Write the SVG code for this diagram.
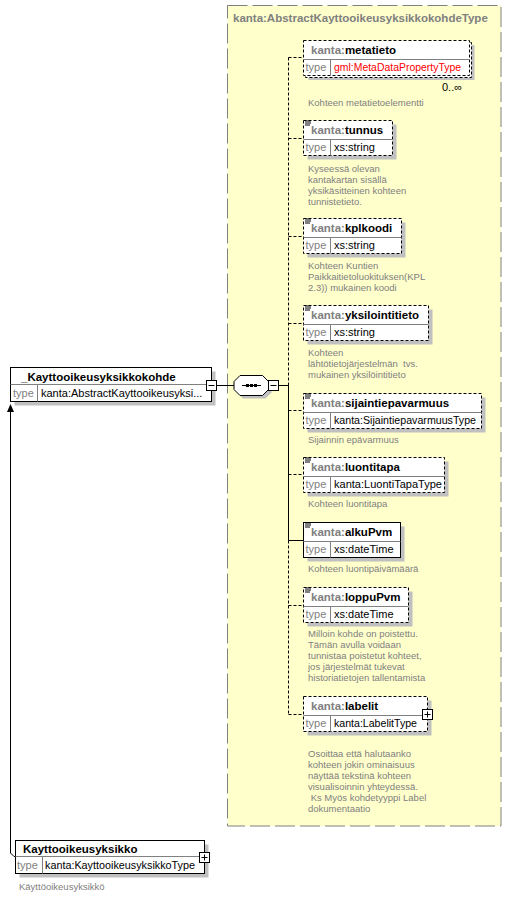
<svg xmlns="http://www.w3.org/2000/svg" width="523" height="897" viewBox="0 0 523 897">
<style>
text{font-family:"Liberation Sans",Arial,sans-serif}
.hdr{font-size:11.5px;font-weight:bold;fill:#000}
.pre{fill:#808080}
.lbl{font-size:11px;fill:#808080}
.val{font-size:11px;fill:#000}
.red{fill:#FF0000}
.doc{font-size:9.5px;fill:#808080;white-space:pre}
.box{fill:#fff;stroke:#000;stroke-width:1}
.opt{stroke-dasharray:3,2}
.sh{fill:#C0C0C0}
.sep{stroke:#808080;stroke-width:1}
.ln{stroke:#000;stroke-width:1;fill:none}
.dl{stroke-dasharray:3,2}
.ico{stroke:#000;stroke-width:1}
</style>
<defs>
<path id="icon" d="M0,0.5h6M0,2.5h6M0,4.5h5" class="ico"/>
</defs>
<g id="type-boundary">
<rect x="227.5" y="5.5" width="273.5" height="820.5" fill="#FFFFCC" stroke="#808080" stroke-dasharray="20,5"/>
<text x="233" y="22" class="hdr" style="fill:#808080">kanta:AbstractKayttooikeusyksikkokohdeType</text>
</g>
<g id="connectors">
<path class="ln" d="M216.5,385.5H234"/>
<path class="ln" d="M278.5,385.5H288.5"/>
<path class="ln dl" d="M288.5,57.5V385.5"/>
<path class="ln" d="M288.5,385.5V540.5H303.5"/>
<path class="ln dl" d="M288.5,540.5V714.5"/>
<path class="ln dl" d="M288.5,57.5H303.5M288.5,138.5H303.5M288.5,236.5H303.5M288.5,323.5H303.5M288.5,410.5H303.5M288.5,474.5H303.5M288.5,605.5H303.5M288.5,714.5H303.5"/>
<path class="ln" d="M10.5,411V853L14,856.5H15.5"/>
<polygon points="10.5,404 7,412 14,412" fill="#000"/>
</g>
<g id="node-kohde">
<rect class="sh" x="14.5" y="371.5" width="201" height="34"/>
<rect class="box" x="10.5" y="367.5" width="201" height="34"/>
<line class="sep" x1="10.5" y1="384.5" x2="211.5" y2="384.5"/>
<line class="sep" x1="37.5" y1="384.5" x2="37.5" y2="401.5"/>
<text x="21" y="381" class="hdr">_Kayttooikeusyksikkokohde</text>
<text x="13" y="397" class="lbl">type</text>
<text x="41" y="397" class="val">kanta:AbstractKayttooikeusyksi...</text>
<rect class="box" x="206.5" y="380.5" width="10" height="10"/>
<path class="ln" d="M208.5,385.5h6"/>
</g>
<g id="sequence">
<polygon class="sh" points="243,378.5 265.5,378.5 271.5,384.5 271.5,392.5 265.5,398.5 243,398.5 237,392.5 237,384.5"/>
<polygon class="box" points="240,375.5 262.5,375.5 268.5,381.5 268.5,389.5 262.5,395.5 240,395.5 234,389.5 234,381.5"/>
<path class="ln" d="M242,385.5H261"/>
<rect x="246" y="384" width="3" height="3" fill="#000"/>
<rect x="250" y="384" width="3" height="3" fill="#000"/>
<rect x="254" y="384" width="3" height="3" fill="#000"/>
<rect class="box" x="268.5" y="380.5" width="10" height="10"/>
<path class="ln" d="M270.5,385.5h6"/>
</g>
<g id="el-metatieto">
<rect class="sh" x="308.5" y="45" width="166" height="35"/>
<rect class="box opt" x="305.5" y="42.5" width="166" height="35"/>
<rect class="box opt" x="303.5" y="40.5" width="166" height="35"/>
<line class="sep" x1="303.5" y1="59.5" x2="469.5" y2="59.5"/>
<line class="sep" x1="330.5" y1="59.5" x2="330.5" y2="75.5"/>
<text x="311" y="54" class="hdr"><tspan class="pre">kanta:</tspan>metatieto</text>
<text x="305.5" y="70.5" class="lbl">type</text>
<text x="334" y="70.5" class="val red" textLength="127" lengthAdjust="spacingAndGlyphs">gml:MetaDataPropertyType</text>
<text x="442" y="91" class="val">0..∞</text>
<text x="308" y="105.5" class="doc">Kohteen metatietoelementti</text>
</g>
<g id="el-tunnus">
<rect class="sh" x="307.5" y="124.5" width="89" height="35"/>
<rect class="box opt" x="303.5" y="120.5" width="89" height="35"/>
<line class="sep" x1="303.5" y1="139.5" x2="392.5" y2="139.5"/>
<line class="sep" x1="330.5" y1="139.5" x2="330.5" y2="155.5"/>
<use href="#icon" x="305" y="120.5"/>
<text x="311" y="134" class="hdr"><tspan class="pre">kanta:</tspan>tunnus</text>
<text x="305.5" y="150.5" class="lbl">type</text>
<text x="334" y="150.5" class="val">xs:string</text>
<text x="308" y="171.5" class="doc">Kyseessä olevan</text>
<text x="308" y="182.5" class="doc">kantakartan sisällä</text>
<text x="308" y="193.5" class="doc">yksikäsitteinen kohteen</text>
<text x="308" y="204.5" class="doc">tunnistetieto.</text>
</g>
<g id="el-kplkoodi">
<rect class="sh" x="307.5" y="222.5" width="98" height="35"/>
<rect class="box opt" x="303.5" y="218.5" width="98" height="35"/>
<line class="sep" x1="303.5" y1="237.5" x2="401.5" y2="237.5"/>
<line class="sep" x1="330.5" y1="237.5" x2="330.5" y2="253.5"/>
<use href="#icon" x="305" y="218.5"/>
<text x="311" y="232" class="hdr"><tspan class="pre">kanta:</tspan>kplkoodi</text>
<text x="305.5" y="248.5" class="lbl">type</text>
<text x="334" y="248.5" class="val">xs:string</text>
<text x="308" y="268.5" class="doc">Kohteen Kuntien</text>
<text x="308" y="279.5" class="doc">Paikkaitietoluokituksen(KPL</text>
<text x="308" y="290.5" class="doc">2.3)) mukainen koodi</text>
</g>
<g id="el-yksilointitieto">
<rect class="sh" x="307.5" y="309.5" width="125" height="35"/>
<rect class="box opt" x="303.5" y="305.5" width="125" height="35"/>
<line class="sep" x1="303.5" y1="324.5" x2="428.5" y2="324.5"/>
<line class="sep" x1="330.5" y1="324.5" x2="330.5" y2="340.5"/>
<use href="#icon" x="305" y="305.5"/>
<text x="311" y="319" class="hdr"><tspan class="pre">kanta:</tspan>yksilointitieto</text>
<text x="305.5" y="335.5" class="lbl">type</text>
<text x="334" y="335.5" class="val">xs:string</text>
<text x="308" y="356" class="doc">Kohteen</text>
<text x="308" y="367" class="doc" xml:space="preserve">lähtötietojärjestelmän  tvs.</text>
<text x="308" y="378" class="doc">mukainen yksilöintitieto</text>
</g>
<g id="el-sijaintiepavarmuus">
<rect class="sh" x="307.5" y="397.5" width="178" height="35"/>
<rect class="box opt" x="303.5" y="393.5" width="178" height="35"/>
<line class="sep" x1="303.5" y1="412.5" x2="481.5" y2="412.5"/>
<line class="sep" x1="330.5" y1="412.5" x2="330.5" y2="428.5"/>
<use href="#icon" x="305" y="393.5"/>
<text x="311" y="407" class="hdr"><tspan class="pre">kanta:</tspan>sijaintiepavarmuus</text>
<text x="305.5" y="423.5" class="lbl">type</text>
<text x="334" y="423.5" class="val" textLength="142" lengthAdjust="spacingAndGlyphs">kanta:SijaintiepavarmuusType</text>
<text x="308" y="442.5" class="doc">Sijainnin epävarmuus</text>
</g>
<g id="el-luontitapa">
<rect class="sh" x="307.5" y="461.5" width="141" height="35"/>
<rect class="box opt" x="303.5" y="457.5" width="141" height="35"/>
<line class="sep" x1="303.5" y1="476.5" x2="444.5" y2="476.5"/>
<line class="sep" x1="330.5" y1="476.5" x2="330.5" y2="492.5"/>
<use href="#icon" x="305" y="457.5"/>
<text x="311" y="471" class="hdr"><tspan class="pre">kanta:</tspan>luontitapa</text>
<text x="305.5" y="487.5" class="lbl">type</text>
<text x="334" y="487.5" class="val" textLength="108" lengthAdjust="spacingAndGlyphs">kanta:LuontiTapaType</text>
<text x="308" y="506.5" class="doc">Kohteen luontitapa</text>
</g>
<g id="el-alkuPvm">
<rect class="sh" x="307.5" y="526.5" width="97" height="35"/>
<rect class="box" x="303.5" y="522.5" width="97" height="35"/>
<line class="sep" x1="303.5" y1="541.5" x2="400.5" y2="541.5"/>
<line class="sep" x1="330.5" y1="541.5" x2="330.5" y2="557.5"/>
<use href="#icon" x="305" y="522.5"/>
<text x="311" y="536" class="hdr"><tspan class="pre">kanta:</tspan>alkuPvm</text>
<text x="305.5" y="552.5" class="lbl">type</text>
<text x="334" y="552.5" class="val">xs:dateTime</text>
<text x="308" y="572" class="doc">Kohteen luontipäivämäärä</text>
</g>
<g id="el-loppuPvm">
<rect class="sh" x="307.5" y="591.5" width="105" height="35"/>
<rect class="box opt" x="303.5" y="587.5" width="105" height="35"/>
<line class="sep" x1="303.5" y1="606.5" x2="408.5" y2="606.5"/>
<line class="sep" x1="330.5" y1="606.5" x2="330.5" y2="622.5"/>
<use href="#icon" x="305" y="587.5"/>
<text x="311" y="601" class="hdr"><tspan class="pre">kanta:</tspan>loppuPvm</text>
<text x="305.5" y="617.5" class="lbl">type</text>
<text x="334" y="617.5" class="val">xs:dateTime</text>
<text x="308" y="637" class="doc">Milloin kohde on poistettu.</text>
<text x="308" y="648" class="doc">Tämän avulla voidaan</text>
<text x="308" y="659" class="doc">tunnistaa poistetut kohteet,</text>
<text x="308" y="670" class="doc">jos järjestelmät tukevat</text>
<text x="308" y="681" class="doc">historiatietojen tallentamista</text>
</g>
<g id="el-labelit">
<rect class="sh" x="307.5" y="700.5" width="124" height="35"/>
<rect class="box opt" x="303.5" y="696.5" width="124" height="35"/>
<line class="sep" x1="303.5" y1="715.5" x2="427.5" y2="715.5"/>
<line class="sep" x1="330.5" y1="715.5" x2="330.5" y2="731.5"/>
<text x="311" y="710" class="hdr"><tspan class="pre">kanta:</tspan>labelit</text>
<text x="305.5" y="726.5" class="lbl">type</text>
<text x="334" y="726.5" class="val" textLength="83" lengthAdjust="spacingAndGlyphs">kanta:LabelitType</text>
<rect class="box" x="422.5" y="709.5" width="10" height="10"/>
<path class="ln" d="M424.5,714.5h6M427.5,711.5v6"/>
<text x="308" y="756.5" class="doc">Osoittaa että halutaanko</text>
<text x="308" y="767.5" class="doc">kohteen jokin ominaisuus</text>
<text x="308" y="778.5" class="doc">näyttää tekstinä kohteen</text>
<text x="308" y="789.5" class="doc">visualisoinnin yhteydessä.</text>
<text x="308" y="800.5" class="doc" xml:space="preserve"> Ks Myös kohdetyyppi Label</text>
<text x="308" y="811.5" class="doc">dokumentaatio</text>
</g>
<g id="node-kayttooikeusyksikko">
<rect class="sh" x="19.5" y="844.5" width="189" height="33"/>
<rect class="box" x="15.5" y="840.5" width="189" height="33"/>
<line class="sep" x1="15.5" y1="856.5" x2="204.5" y2="856.5"/>
<line class="sep" x1="42.5" y1="856.5" x2="42.5" y2="873.5"/>
<text x="23" y="852.5" class="hdr">Kayttooikeusyksikko</text>
<text x="17" y="869" class="lbl">type</text>
<text x="45" y="869" class="val" textLength="150" lengthAdjust="spacingAndGlyphs">kanta:KayttooikeusyksikkoType</text>
<rect class="box" x="199.5" y="852.5" width="10" height="10"/>
<path class="ln" d="M201.5,857.5h6M204.5,854.5v6"/>
<text x="19" y="889.5" class="doc">Käyttöoikeusyksikkö</text>
</g>
</svg>
